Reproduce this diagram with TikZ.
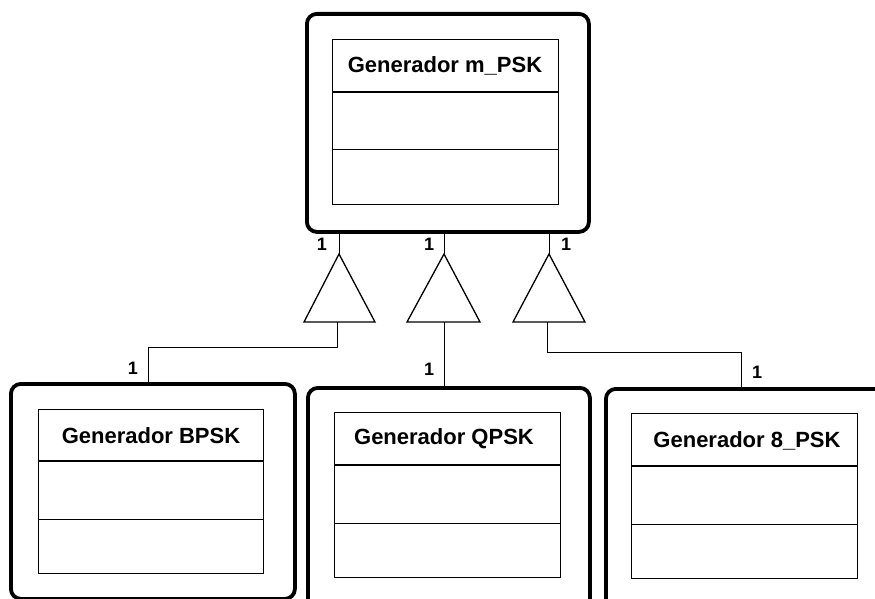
\documentclass[tikz,border=0pt]{standalone}
\usepackage{fontspec}
\setmainfont{Liberation Sans}
\begin{document}
\begin{tikzpicture}[x=1pt,y=-1pt,
  outerbox/.style={draw, line width=3.8pt, rounded corners=10pt, inner sep=0pt, anchor=north west},
  innerbox/.style={draw, line width=1pt, inner sep=0pt, anchor=north west},
  titlerule/.style={line width=2pt},
  plainrule/.style={line width=1pt},
  title/.style={font=\fontsize{22}{26}\selectfont\bfseries, inner sep=0pt},
  mult/.style={font=\fontsize{18}{21}\selectfont\bfseries, inner sep=0pt},
  conn/.style={line width=1pt},
  tri/.style={line width=1.3pt, line join=miter}]
\useasboundingbox (0,0) rectangle (875,599);
\clip (0,0) rectangle (875,599);

% ---- superclass ----
\node[outerbox, minimum width=282pt, minimum height=218pt] (gen) at (305,12) {};
\node[innerbox, minimum width=226pt, minimum height=165pt] (genC) at (332,39) {};
\draw[titlerule] (genC.west |- 0,92) -- (genC.east |- 0,92);
\draw[plainrule] (genC.west |- 0,149) -- (genC.east |- 0,149);
\node[title] (genT) at (445,66) {Generador m\_PSK};

% ---- subclasses ----
\node[outerbox, minimum width=284pt, minimum height=215pt] (bpsk) at (9,382) {};
\node[innerbox, minimum width=225pt, minimum height=164pt] (bpskC) at (38,409) {};
\draw[titlerule] (bpskC.west |- 0,461) -- (bpskC.east |- 0,461);
\draw[plainrule] (bpskC.west |- 0,519) -- (bpskC.east |- 0,519);
\node[title] (bpskT) at (151,436) {Generador BPSK};

\node[outerbox, minimum width=282pt, minimum height=225pt] (qpsk) at (306,386) {};
\node[innerbox, minimum width=226pt, minimum height=165pt] (qpskC) at (334,412) {};
\draw[titlerule] (qpskC.west |- 0,465) -- (qpskC.east |- 0,465);
\draw[plainrule] (qpskC.west |- 0,523) -- (qpskC.east |- 0,523);
\node[title] (qpskT) at (444,439) {Generador QPSK};

\node[outerbox, minimum width=286pt, minimum height=225pt] (epsk) at (604,387) {};
\node[innerbox, minimum width=226pt, minimum height=165pt] (epskC) at (631,413) {};
\draw[titlerule] (epskC.west |- 0,466) -- (epskC.east |- 0,466);
\draw[plainrule] (epskC.west |- 0,524) -- (epskC.east |- 0,524);
\node[title] (epskT) at (747,441) {Generador 8\_PSK};

% ---- generalisation triangles ----
\coordinate (t1a) at (339,254); \coordinate (t1b) at (337,322);
\coordinate (t2a) at (444,254); \coordinate (t2b) at (444,322);
\coordinate (t3a) at (549,254); \coordinate (t3b) at (547,322);
\draw[tri] (t1a) -- (304,322) -- (375,322) -- cycle;
\draw[tri] (t2a) -- (407,322) -- (480,322) -- cycle;
\draw[tri] (t3a) -- (513,322) -- (585,322) -- cycle;

% ---- connectors ----
\draw[conn] (t1a) -- (t1a |- gen.south);
\draw[conn] (t2a) -- (t2a |- gen.south);
\draw[conn] (t3a) -- (t3a |- gen.south);

\coordinate (j1) at (148,347);
\coordinate (j3) at (741,352);
\draw[conn] (t1b) |- (j1) -- (j1 |- bpsk.north);
\draw[conn] (t2b) -- (t2b |- qpsk.north);
\draw[conn] (t3b) |- (j3) -- (j3 |- epsk.north);

% ---- multiplicities ----
\node[mult] (m1) at (322,244) {1};
\node[mult] (m2) at (429,244) {1};
\node[mult] (m3) at (566,244) {1};
\node[mult] (m4) at (133,368) {1};
\node[mult] (m5) at (429,369) {1};
\node[mult] (m6) at (757,372) {1};
\end{tikzpicture}
\end{document}
